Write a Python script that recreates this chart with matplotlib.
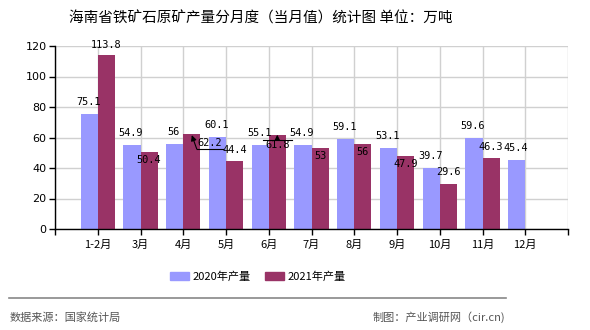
import matplotlib
matplotlib.use('Agg')
import matplotlib.pyplot as plt
from matplotlib.patches import Patch
from matplotlib.lines import Line2D
import numpy as np

plt.rcParams['font.family'] = ['Noto Sans CJK SC', 'DejaVu Sans']

TITLE = '海南省铁矿石原矿产量分月度（当月值）统计图 单位：万吨'
MONTHS = ['1-2月', '3月', '4月', '5月', '6月', '7月', '8月', '9月', '10月', '11月', '12月']
Y2020 = [75.1, 54.9, 56, 60.1, 55.1, 54.9, 59.1, 53.1, 39.7, 59.6, 45.4]
Y2021 = [113.8, 50.4, 62.2, 44.4, 61.8, 53, 56, 47.9, 29.6, 46.3, np.nan]
SERIES = ['2020年产量', '2021年产量']
SOURCE = '数据来源：国家统计局'
CREDIT = '制图：产业调研网（cir.cn)'

# where each 2021 label sits relative to its bar
PLACE_2021 = ['above', 'inside', 'arrow_up', 'above', 'arrow_line',
              'inside', 'inside', 'inside', 'above', 'above', None]

C2020 = '#9999ff'
C2021 = '#993366'
NUM_FONT = dict(family='DejaVu Sans Mono', fontsize=7.4, color='black')

fig = plt.figure(figsize=(5.9, 3.3), dpi=100)
ax = fig.add_axes([55 / 590, 1 - 229 / 330, 513 / 590, 183 / 330])

x = np.arange(1, len(MONTHS) + 1)
w = 0.4
ax.bar(x - w / 2, Y2020, w, color=C2020, zorder=2)
ax.bar(x + w / 2, Y2021, w, color=C2021, zorder=2)

ax.set_xlim(0, 12)
ax.set_ylim(0, 120)
ax.set_yticks(range(0, 121, 20))
ax.set_xticks(range(0, 13))
ax.set_xticklabels([''] + MONTHS + [''])
ax.tick_params(axis='both', labelsize=8, length=4, width=1, color='black', pad=2)
ax.tick_params(axis='x', pad=3.5)
for lab in ax.get_yticklabels():
    lab.set_family('DejaVu Sans')
ax.grid(True, color='#d0d0d0', linewidth=1, zorder=0)
for s in ['top', 'right']:
    ax.spines[s].set_visible(False)
for s in ['left', 'bottom']:
    ax.spines[s].set_color('black')
    ax.spines[s].set_linewidth(1)

PX_X = 513 / 12   # pixels per x unit
PX_Y = 183 / 120  # pixels per y unit

def label(xc, val, dy_px, dx_px=0):
    ax.text(xc + dx_px / PX_X, val + dy_px / PX_Y, f'{val:g}', ha='center', va='center',
            zorder=5, **NUM_FONT)

for xi, v in zip(x, Y2020):
    label(xi - w / 2, v, 12, -1)

for xi, v, p in zip(x, Y2021, PLACE_2021):
    xc = xi + w / 2
    if p is None or np.isnan(v):
        continue
    if p == 'above':
        label(xc, v, 10 if v > 100 else 11.5)
    elif p == 'inside':
        label(xc, v, -8)
    elif p == 'arrow_up':
        label(xc, v, -9, 18)
        sx, sy = xc + 5 / PX_X, v - 15 / PX_Y
        ax.add_line(Line2D([sx, xc + 31 / PX_X], [sy, sy], color='black', lw=0.8, zorder=5))
        ax.annotate('', xy=(xc, v - 1 / PX_Y), xytext=(sx, sy),
                    arrowprops=dict(arrowstyle='-|>', color='black', lw=0.8,
                                    mutation_scale=8, shrinkA=0, shrinkB=0), zorder=5)
    elif p == 'arrow_line':
        label(xc, v, -10)
        ly = v - 5 / PX_Y
        ax.add_line(Line2D([xc - 14 / PX_X, xc + 15 / PX_X], [ly, ly], color='black', lw=0.8, zorder=5))
        ax.annotate('', xy=(xc, v), xytext=(xc, ly),
                    arrowprops=dict(arrowstyle='-|>', color='black', lw=0.8,
                                    mutation_scale=8, shrinkA=0, shrinkB=0), zorder=5)

fig.text(261 / 590, 1 - 18 / 330, TITLE, ha='center', va='center', fontsize=10.5)

handles = [Patch(color=C2020, label=SERIES[0]), Patch(color=C2021, label=SERIES[1])]
fig.legend(handles=handles, loc='center', bbox_to_anchor=(258 / 590, 1 - 277 / 330),
           ncol=2, frameon=False, fontsize=8, handlelength=1.7, handleheight=0.7,
           handletextpad=0.35, columnspacing=1.3)

fig.add_artist(Line2D([9 / 590, 506 / 590], [1 - 298 / 330] * 2, color='#888888', lw=1.2))
fig.text(10 / 590, 1 - 317 / 330, SOURCE, ha='left', va='center', fontsize=8, color='#555555')
fig.text(505 / 590, 1 - 317 / 330, CREDIT, ha='right', va='center', fontsize=8, color='#555555')

fig.savefig('out.png', dpi=100)
